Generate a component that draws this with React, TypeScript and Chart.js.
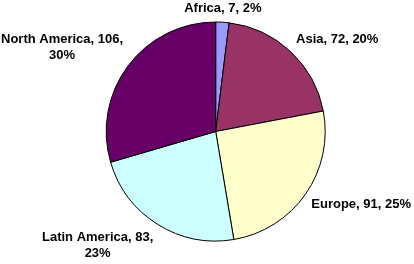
import React, { useEffect, useRef } from "react";
import { Chart, registerables } from "chart.js";

Chart.register(...registerables);

const categories = ["Africa", "Asia", "Europe", "Latin America", "North America"];
const values = [7, 72, 91, 83, 106];
const colors = ["#9999FF", "#993366", "#FFFFCC", "#CCFFFF", "#660066"];

const FONT = "bold 13px 'Liberation Sans', Arial, sans-serif";
const LINE_H = 16;
const MAX_W = 125;

function wrapLabel(ctx: CanvasRenderingContext2D, text: string): string[] {
  if (ctx.measureText(text).width <= MAX_W) return [text];
  const idx = text.lastIndexOf(", ");
  return [text.slice(0, idx + 1), text.slice(idx + 2)];
}

const labelPlugin = {
  id: "outsideLabels",
  afterDatasetsDraw(chart: any) {
    const ctx: CanvasRenderingContext2D = chart.ctx;
    const meta = chart.getDatasetMeta(0);
    const data: number[] = chart.data.datasets[0].data;
    const total = data.reduce((a, b) => a + b, 0);
    ctx.save();
    ctx.font = FONT;
    ctx.fillStyle = "#000";
    ctx.textBaseline = "middle";
    ctx.textAlign = "center";
    meta.data.forEach((arc: any, i: number) => {
      const { x, y, startAngle, endAngle, outerRadius } = arc.getProps(
        ["x", "y", "startAngle", "endAngle", "outerRadius"],
        true
      );
      const mid = (startAngle + endAngle) / 2;
      const c = Math.cos(mid);
      const s = Math.sin(mid);
      const ax = x + c * (outerRadius + 8);
      const ay = y + s * (outerRadius + 12);
      const pct = Math.round((data[i] / total) * 100);
      const text = `${chart.data.labels[i]}, ${data[i]}, ${pct}%`;
      const lines = wrapLabel(ctx, text);
      const w = Math.max(...lines.map((l) => ctx.measureText(l).width));
      const h = lines.length * LINE_H;
      let left: number;
      if (Math.abs(c) < 0.2) left = ax - w / 2;
      else if (c > 0) left = ax;
      else left = ax - w;
      let top = s < 0 ? ay - h + 5 : ay - 5;
      top = Math.max(0, Math.min(chart.height - h, top));
      left = Math.max(1, Math.min(chart.width - w - 3, left));
      lines.forEach((l, k) => {
        ctx.fillText(l, left + w / 2, top + LINE_H * k + LINE_H / 2);
      });
    });
    ctx.restore();
  },
};

export default function App() {
  const ref = useRef<HTMLCanvasElement | null>(null);
  useEffect(() => {
    document.body.style.margin = "0";
    const chart = new Chart(ref.current as HTMLCanvasElement, {
      type: "pie",
      data: {
        labels: categories,
        datasets: [
          {
            data: values,
            backgroundColor: colors,
            borderColor: "#000000",
            borderWidth: 1,
          },
        ],
      },
      options: {
        responsive: false,
        animation: false,
        layout: { padding: { top: 21.5, bottom: 22.5, left: 105.7, right: 88.3 } },
        plugins: { legend: { display: false }, tooltip: { enabled: false } },
      },
      plugins: [labelPlugin],
    });
    return () => chart.destroy();
  }, []);
  return (
    <div style={{ width: 414, height: 264, background: "#fff" }}>
      <canvas ref={ref} width={414} height={264} />
    </div>
  );
}
